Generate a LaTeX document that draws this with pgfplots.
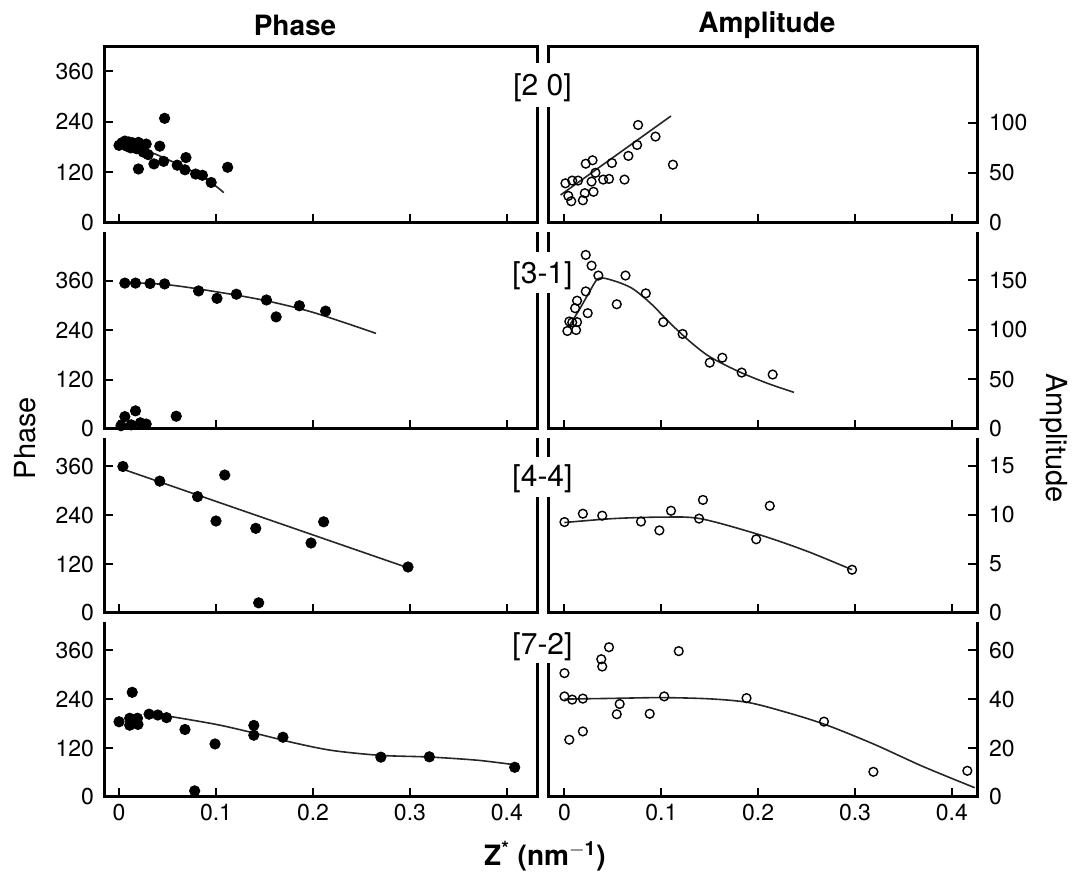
\documentclass[border=0pt]{standalone}
\usepackage{pgfplots}
\pgfplotsset{compat=1.18}
\usepackage{fontspec}
\setmainfont{TeX Gyre Heros}

% 1 px of the reference = 0.5pt
\pgfplotsset{
  panel/.style={
    scale only axis, clip=false, ymin=0,
    axis x line*=bottom,
    axis line style={draw=none},
    tick align=inside, major tick length=4.5pt,
    every tick/.style={black, line width=1pt},
    xtick={0,0.1,0.2,0.3,0.4}, xticklabels={},
    /pgf/number format/assume math mode=true,
    ticklabel style={font=\fontsize{11.5}{13}\selectfont},
  },
  lpanel/.style={panel, axis y line*=left, width=216.5pt,
    xmin=-0.0155, xmax=0.431, ytick={0,120,240,360},
    yticklabel style={xshift=-1.5pt}},
  rpanel/.style={panel, axis y line*=right, width=214.5pt,
    xmin=-0.017, xmax=0.426, yticklabel style={xshift=2.5pt}},
  filled/.style={only marks, mark=*, mark size=2.6pt, black},
  open/.style={only marks, mark=o, mark size=2.2pt, black, mark options={line width=0.7pt}},
  fit/.style={no marks, smooth, black!85, line width=0.8pt},
}
\tikzset{pframe/.style={line width=1.5pt, line join=miter}}

\begin{document}
\begin{tikzpicture}
\path[use as bounding box] (0,0) rectangle (538.5pt,436.5pt);

% ---------- row 1 : [2 0]
\begin{axis}[lpanel, at={(52pt,325pt)}, anchor=south west, height=88pt, ymax=417]
\addplot[filled] coordinates {
  (0.000,184) (0.003,190) (0.006,194) (0.008,182) (0.010,192) (0.012,178)
  (0.014,190) (0.016,184) (0.018,176) (0.020,191) (0.022,180) (0.025,168)
  (0.028,187) (0.030,162) (0.020,128) (0.036,140) (0.042,182) (0.046,146)
  (0.047,248) (0.060,137) (0.069,155) (0.068,126) (0.079,116) (0.086,113)
  (0.095,96) (0.112,132)};
\addplot[fit] coordinates {(0.002,188) (0.03,170) (0.06,140) (0.09,104) (0.108,72)};
\draw[pframe] (rel axis cs:1,0.909) -- (rel axis cs:1,1) -- (rel axis cs:0,1) -- (rel axis cs:0,0) -- (rel axis cs:1,0) -- (rel axis cs:1,0.659);
\end{axis}
\begin{axis}[rpanel, at={(274pt,325pt)}, anchor=south west, height=88pt, ymax=176, ytick={0,50,100}]
\addplot[open] coordinates {
  (0.001,39.7) (0.004,27.1) (0.007,21.7) (0.008,42.4) (0.014,42.4) (0.019,22.7)
  (0.021,29.8) (0.022,59.3) (0.029,62.7) (0.028,41.4) (0.030,31.2) (0.032,50.2)
  (0.040,43.4) (0.046,44.1) (0.049,60.0) (0.062,43.4) (0.066,67.1) (0.075,78.0)
  (0.076,98.0) (0.094,86.4) (0.112,58.3)};
\addplot[fit] coordinates {(-0.004,28) (0.110,107)};
\draw[pframe] (rel axis cs:0,0.909) -- (rel axis cs:0,1) -- (rel axis cs:1,1) -- (rel axis cs:1,0) -- (rel axis cs:0,0) -- (rel axis cs:0,0.659);
\end{axis}

% ---------- row 2 : [3-1]
\begin{axis}[lpanel, at={(52pt,222pt)}, anchor=south west, height=98.5pt, ymax=478]
\addplot[filled] coordinates {
  (0.006,354) (0.017,354) (0.032,353) (0.047,352) (0.082,335) (0.101,317)
  (0.121,327) (0.152,313) (0.162,272) (0.186,299) (0.213,286)
  (0.002,8) (0.006,30) (0.0125,10) (0.017,44) (0.022,15) (0.028,12) (0.059,31)};
\addplot[fit] coordinates {(0.003,356) (0.05,350) (0.1,333) (0.15,312) (0.2,283) (0.265,232)};
\draw[pframe] (rel axis cs:1,0.898) -- (rel axis cs:1,1);
\draw[pframe] (rel axis cs:0,1) -- (rel axis cs:0,0) -- (rel axis cs:1,0) -- (rel axis cs:1,0.690);
\end{axis}
\begin{axis}[rpanel, at={(274pt,222pt)}, anchor=south west, height=98.5pt, ymax=199, ytick={0,50,100,150}]
\addplot[open] coordinates {
  (0.003,99) (0.005,108.6) (0.008,107.6) (0.011,122) (0.013,108) (0.013,129.6)
  (0.012,100) (0.022,139) (0.024,117) (0.022,175.8) (0.028,165) (0.035,155)
  (0.054,126) (0.063,155) (0.084,137) (0.102,108) (0.122,96) (0.150,67)
  (0.163,72) (0.183,57) (0.215,55)};
\addplot[fit] coordinates {(0.004,103) (0.015,120) (0.025,137) (0.035,152) (0.05,150)
  (0.07,142) (0.09,126) (0.11,106) (0.13,88) (0.15,73) (0.18,58) (0.21,46) (0.237,37)};
\draw[pframe] (rel axis cs:0,0.898) -- (rel axis cs:0,1);
\draw[pframe] (rel axis cs:1,1) -- (rel axis cs:1,0) -- (rel axis cs:0,0) -- (rel axis cs:0,0.690);
\end{axis}

% ---------- row 3 : [4-4]
\begin{axis}[lpanel, at={(52pt,130pt)}, anchor=south west, height=87.5pt, ymax=430]
\addplot[filled] coordinates {
  (0.004,360) (0.042,324) (0.081,286) (0.100,226) (0.109,339) (0.141,208)
  (0.144,25) (0.198,172) (0.211,224) (0.298,113)};
\addplot[fit] coordinates {(0.002,355) (0.298,111)};
\draw[pframe] (rel axis cs:1,0.891) -- (rel axis cs:1,1);
\draw[pframe] (rel axis cs:0,1) -- (rel axis cs:0,0) -- (rel axis cs:1,0) -- (rel axis cs:1,0.663);
\end{axis}
\begin{axis}[rpanel, at={(274pt,130pt)}, anchor=south west, height=87.5pt, ymax=17.8, ytick={0,5,10,15}]
\addplot[open] coordinates {
  (0.000,9.25) (0.019,10.1) (0.039,9.9) (0.079,9.3) (0.098,8.4) (0.110,10.4)
  (0.139,9.6) (0.143,11.5) (0.198,7.5) (0.212,10.9) (0.297,4.4)};
\addplot[fit] coordinates {(0,9.2) (0.05,9.6) (0.1,9.75) (0.14,9.6) (0.2,8.0) (0.25,6.3) (0.297,4.4)};
\draw[pframe] (rel axis cs:0,0.891) -- (rel axis cs:0,1);
\draw[pframe] (rel axis cs:1,1) -- (rel axis cs:1,0) -- (rel axis cs:0,0) -- (rel axis cs:0,0.663);
\end{axis}

% ---------- row 4 : [7-2]
\begin{axis}[lpanel, at={(52pt,38pt)}, anchor=south west, height=87.5pt, ymax=429,
  xticklabels={0,0.1,0.2,0.3,0.4}]
\addplot[filled] coordinates {
  (0.000,184.5) (0.011,176) (0.011,193) (0.0136,256.6) (0.019,193) (0.0195,178)
  (0.031,203) (0.040,201) (0.049,194.5) (0.068,165.5) (0.099,130) (0.139,175.5)
  (0.139,151.5) (0.169,146.5) (0.078,15) (0.270,97.7) (0.320,98.5) (0.408,72.8)};
\addplot[fit] coordinates {(0.049,199) (0.1,178) (0.139,157) (0.18,133) (0.22,114)
  (0.27,102) (0.32,98) (0.37,90) (0.408,79)};
\draw[pframe] (rel axis cs:0,1) -- (rel axis cs:0,0) -- (rel axis cs:1,0) -- (rel axis cs:1,0.766);
\end{axis}
\begin{axis}[rpanel, at={(274pt,38pt)}, anchor=south west, height=87.5pt, ymax=71.5, ytick={0,20,40,60},
  xticklabels={0,0.1,0.2,0.3,0.4}]
\addplot[open] coordinates {
  (0.000,50.6) (0.000,41.1) (0.008,39.8) (0.019,40.2) (0.005,23.4) (0.019,26.8)
  (0.038,56.3) (0.039,53.3) (0.046,61.2) (0.054,33.8) (0.057,38.0) (0.088,34.0)
  (0.103,41.1) (0.118,59.6) (0.188,40.4) (0.268,30.8) (0.319,10.3) (0.416,10.7)};
\addplot[fit] coordinates {(0,40) (0.05,40.3) (0.1,40.6) (0.15,40.1) (0.19,38.6)
  (0.23,34.5) (0.27,29.5) (0.32,21.5) (0.37,12.5) (0.4236,3.8)};
\draw[pframe] (rel axis cs:1,1) -- (rel axis cs:1,0) -- (rel axis cs:0,0) -- (rel axis cs:0,0.766);
\end{axis}

% ---------- labels
\node[font=\fontsize{15}{18}\selectfont] at (271.25pt,392.5pt) {[2 0]};
\node[font=\fontsize{15}{18}\selectfont] at (271.25pt,298.5pt) {[3-1]};
\node[font=\fontsize{15}{18}\selectfont] at (271.25pt,197pt) {[4-4]};
\node[font=\fontsize{15}{18}\selectfont] at (271.25pt,113pt) {[7-2]};
\node[font=\fontsize{14}{17}\selectfont\bfseries] at (147.5pt,424pt) {Phase};
\node[font=\fontsize{14}{17}\selectfont\bfseries] at (383.5pt,424pt) {Amplitude};
\node[font=\fontsize{14}{17}\selectfont\bfseries] at (272.5pt,8.5pt) {Z\textsuperscript{*} (nm\textsuperscript{$-$1})};
\node[font=\fontsize{14.5}{17}\selectfont, rotate=90] at (12.5pt,217.5pt) {Phase};
\node[font=\fontsize{14.5}{17}\selectfont, rotate=-90] at (527pt,217.5pt) {Amplitude};
\end{tikzpicture}
\end{document}
